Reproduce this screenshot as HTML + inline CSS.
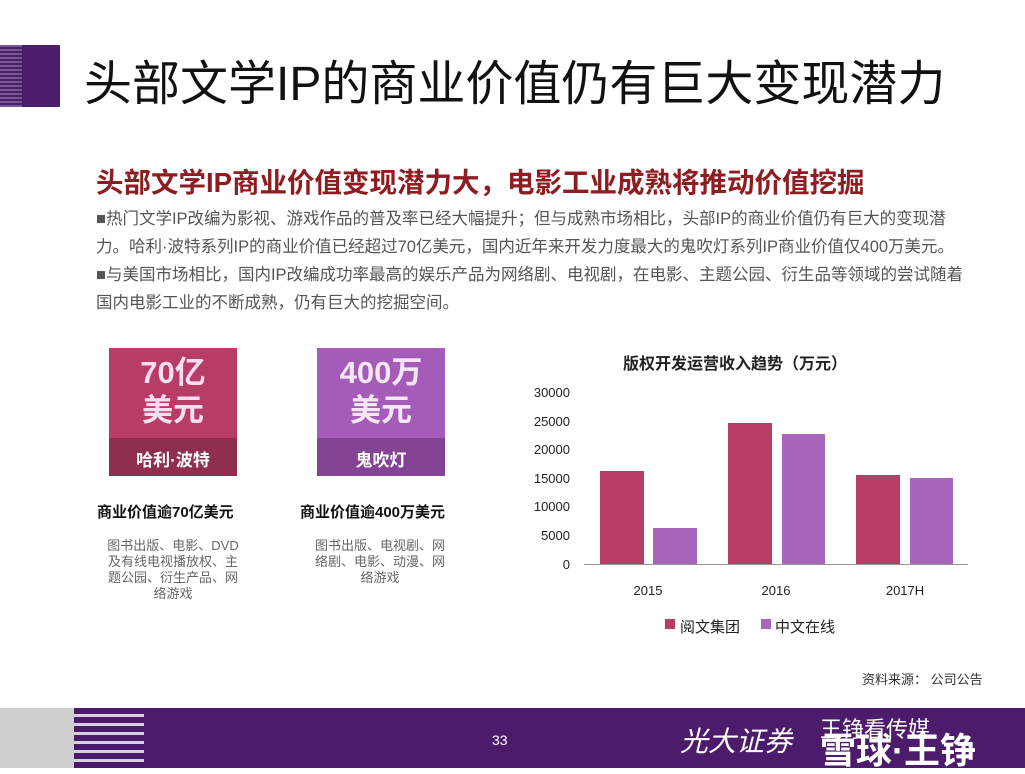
<!DOCTYPE html>
<html><head><meta charset="utf-8"><style>
body{margin:0;width:1025px;height:768px;position:relative;background:#fff;overflow:hidden;font-family:"Liberation Sans","Noto Sans CJK SC",sans-serif}
.a{position:absolute;white-space:nowrap}
</style></head><body>
<div class="a" style="left:0;top:45px;width:60px;height:62px;background:#4d1d6d"></div>
<div class="a" style="left:0;top:45px;width:22px;height:62px;background:repeating-linear-gradient(#7a5a94 0 2px,#4d1d6d 2px 4px)"></div>
<div class="a" style="left:84px;top:44px;font-size:48px;color:#111">头部文学IP的商业价值仍有巨大变现潜力</div>
<div class="a" style="left:96px;top:160px;font-size:27.5px;font-weight:bold;color:#8e1d22">头部文学IP商业价值变现潜力大，电影工业成熟将推动价值挖掘</div>
<div class="a" style="left:96px;top:205px;font-size:16.5px;color:#555;line-height:28px">■热门文学IP改编为影视、游戏作品的普及率已经大幅提升；但与成熟市场相比，头部IP的商业价值仍有巨大的变现潜<br>力。哈利·波特系列IP的商业价值已经超过70亿美元，国内近年来开发力度最大的鬼吹灯系列IP商业价值仅400万美元。<br>■与美国市场相比，国内IP改编成功率最高的娱乐产品为网络剧、电视剧，在电影、主题公园、衍生品等领域的尝试随着<br>国内电影工业的不断成熟，仍有巨大的挖掘空间。</div>

<div class="a" style="left:109px;top:348px;width:128px;height:90px;background:#b83d66"></div>
<div class="a" style="left:109px;top:438px;width:128px;height:38px;background:#8f2e4f"></div>
<div class="a" style="left:109px;top:354px;width:128px;text-align:center;font-size:31px;font-weight:bold;color:#f6dff0;line-height:38px">70亿<br>美元</div>
<div class="a" style="left:109px;top:446px;width:128px;text-align:center;font-size:17px;font-weight:bold;color:#fff">哈利·波特</div>
<div class="a" style="left:317px;top:348px;width:128px;height:90px;background:#a45cb8"></div>
<div class="a" style="left:317px;top:438px;width:128px;height:38px;background:#844394"></div>
<div class="a" style="left:317px;top:354px;width:128px;text-align:center;font-size:31px;font-weight:bold;color:#f6e6f7;line-height:38px">400万<br>美元</div>
<div class="a" style="left:317px;top:446px;width:128px;text-align:center;font-size:17px;font-weight:bold;color:#fff">鬼吹灯</div>
<div class="a" style="left:97px;top:501px;font-size:15px;font-weight:bold;color:#111">商业价值逾70亿美元</div>
<div class="a" style="left:300px;top:501px;font-size:15px;font-weight:bold;color:#111">商业价值逾400万美元</div>
<div class="a" style="left:98px;top:538px;width:150px;text-align:center;font-size:13px;color:#666;line-height:16px;white-space:normal">图书出版、电影、DVD<br>及有线电视播放权、主<br>题公园、衍生产品、网<br>络游戏</div>
<div class="a" style="left:305px;top:538px;width:150px;text-align:center;font-size:13px;color:#666;line-height:16px;white-space:normal">图书出版、电视剧、网<br>络剧、电影、动漫、网<br>络游戏</div>

<svg class="a" style="left:0;top:0" width="1025" height="768">
<g font-family="Liberation Sans,Noto Sans CJK SC,sans-serif" font-size="13" fill="#222" text-anchor="end">
<text x="570" y="397">30000</text><text x="570" y="426">25000</text><text x="570" y="454">20000</text><text x="570" y="483">15000</text><text x="570" y="511">10000</text><text x="570" y="540">5000</text><text x="570" y="569">0</text>
</g>
<rect x="600" y="471" width="44" height="93" fill="#b83d66"/>
<rect x="653" y="528" width="44" height="36" fill="#a766bb"/>
<rect x="728" y="423" width="44" height="141" fill="#b83d66"/>
<rect x="782" y="434" width="43" height="130" fill="#a766bb"/>
<rect x="856" y="475" width="44" height="89" fill="#b83d66"/>
<rect x="910" y="478" width="43" height="86" fill="#a766bb"/>
<line x1="584" y1="564.5" x2="968" y2="564.5" stroke="#999"/>
<g font-family="Liberation Sans,sans-serif" font-size="13" fill="#222" text-anchor="middle">
<text x="648" y="595">2015</text><text x="776" y="595">2016</text><text x="905" y="595">2017H</text>
</g>
<rect x="665" y="619" width="10" height="10" fill="#b83d66"/>
<rect x="761" y="619" width="10" height="10" fill="#a766bb"/>
<g font-family="Liberation Sans,Noto Sans CJK SC,sans-serif" font-size="15" fill="#222">
<text x="680" y="632">阅文集团</text><text x="775" y="632">中文在线</text>
<text x="623" y="369" font-weight="bold" font-size="16">版权开发运营收入趋势（万元）</text>
</g>
</svg>
<div class="a" style="left:862px;top:669px;font-size:13px;color:#333">资料来源：  公司公告</div>

<div class="a" style="left:0;top:708px;width:1025px;height:60px;background:#4d1b6b"></div>
<div class="a" style="left:0;top:708px;width:74px;height:60px;background:#cfcfcf"></div>
<div class="a" style="left:74px;top:708px;width:70px;height:60px;background:repeating-linear-gradient(#4d1b6b 0 6px,#d8d0de 6px 9px)"></div>
<div class="a" style="left:492px;top:732px;font-size:14px;color:#fff">33</div>
<div class="a" style="left:680px;top:720px;font-size:28px;color:#fff;font-style:italic">光大证券</div>
<div class="a" style="left:820px;top:712px;font-size:22px;color:#fff">王铮看传媒</div>
<div class="a" style="left:820px;top:722px;font-size:36px;font-weight:bold;color:#fff">雪球·王铮</div>
</body></html>
